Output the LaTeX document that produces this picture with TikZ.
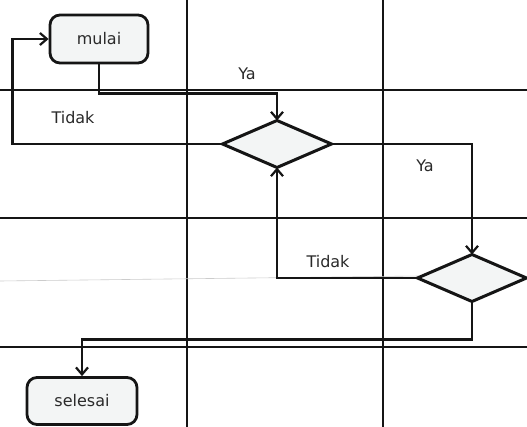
\documentclass[tikz,border=0pt]{standalone}
\usepackage{fontspec}
\setmainfont{DejaVu Sans}
\usetikzlibrary{shapes.geometric,arrows.meta}
\definecolor{ink}{HTML}{151515}
\definecolor{boxfill}{HTML}{F3F5F5}
\definecolor{txt}{HTML}{2A2A2A}
\begin{document}
\begin{tikzpicture}[x=1pt,y=-1pt,
  gridline/.style={draw=ink,line width=1.8pt},
  faint/.style={draw=gray!40,line width=0.6pt},
  startstop/.style={draw=ink,fill=boxfill,line width=2.8pt,rounded corners=10pt,
    minimum width=98pt,minimum height=48pt,inner sep=0pt,
    font=\fontsize{16}{18}\selectfont,text=txt},
  decision/.style={draw=ink,fill=boxfill,diamond,line width=3pt,
    minimum width=109pt,minimum height=47pt,inner sep=0pt,outer sep=0pt},
  conn/.style={draw=ink,line width=2.8pt,-{Straight Barb[length=7pt,width=12pt,line width=2.2pt]}},
  lbl/.style={font=\fontsize{16}{18}\selectfont,text=txt}]
\useasboundingbox (0,0) rectangle (527,427);
\fill[white] (0,0) rectangle (527,427);
% lane grid
\draw[gridline] (187,0) -- (187,427);
\draw[gridline] (383,0) -- (383,427);
\draw[gridline] (0,90) -- (527,90);
\draw[gridline] (0,218) -- (527,218);
\draw[gridline] (0,347) -- (527,347);
\draw[faint] (0,281) -- (420,276);
% nodes
\node[startstop] (mulai) at (99,39) {mulai};
\node[startstop,minimum width=110pt,minimum height=47pt] (selesai) at (82,401) {selesai};
\node[decision] (d1) at (277,144) {};
\node[decision] (d2) at (472,278) {};
% connectors
\draw[conn] (mulai.south) -- ++(0,29) -| (d1.north);
\draw[conn] (d1.west) -- ++(-210,0) |- (mulai.west);
\draw[conn] (d1.east) -| (d2.north);
\draw[conn] (d2.west) -| (d1.south);
\draw[conn] (d2.south) -- ++(0,38) -| (selesai.north);
% labels
\node[lbl] (ya1) at (247,74) {Ya};
\node[lbl] (tidak1) at (73,118) {Tidak};
\node[lbl] (ya2) at (425,166) {Ya};
\node[lbl] (tidak2) at (328,262) {Tidak};
\end{tikzpicture}
\end{document}
